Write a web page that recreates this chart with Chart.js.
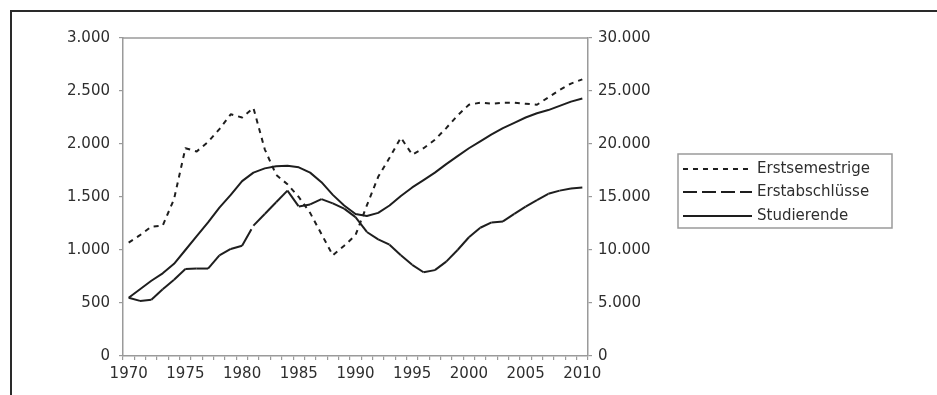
<!DOCTYPE html>
<html lang="de">
<head>
<meta charset="utf-8">
<title>Erstsemestrige, Erstabschlüsse und Studierende 1970–2010</title>
<script src="https://cdn.jsdelivr.net/npm/chart.js@4.4.1/dist/chart.umd.min.js"></script>
<style>
  html, body { margin: 0; padding: 0; background: #fff; overflow: hidden; }
  #wrap { width: 937px; height: 395px; }
</style>
</head>
<body>
<div id="wrap"><canvas id="c" width="937" height="395"></canvas></div>
<script>
// Jahre (Kategorien der x-Achse)
const years = [
  1970, 1971, 1972, 1973, 1974, 1975, 1976, 1977, 1978, 1979,
  1980, 1981, 1982, 1983, 1984, 1985, 1986, 1987, 1988, 1989,
  1990, 1991, 1992, 1993, 1994, 1995, 1996, 1997, 1998, 1999,
  2000, 2001, 2002, 2003, 2004, 2005, 2006, 2007, 2008, 2009, 2010
];

// Erstsemestrige (linke Achse)
const erstsemestrige = [
  1070, 1140, 1220, 1230, 1480, 1960, 1930, 2020, 2140, 2280,
  2250, 2340, 1950, 1710, 1620, 1500, 1350, 1150, 950, 1040,
  1140, 1420, 1690, 1870, 2060, 1900, 1960, 2040, 2150, 2270,
  2370, 2390, 2380, 2390, 2390, 2380, 2370, 2440, 2510, 2570, 2610
];

// Erstabschlüsse (linke Achse)
const erstabschluesse = [
  550, 520, 530, 630, 720, 820, 825, 825, 950, 1010,
  1040, 1230, 1340, 1450, 1560, 1410, 1430, 1480, 1440, 1390,
  1310, 1170, 1100, 1050, 950, 860, 790, 810, 890, 1000,
  1120, 1210, 1260, 1270, 1340, 1410, 1470, 1530, 1560, 1580, 1590
];

// Studierende (rechte Achse)
const studierende = [
  5500, 6300, 7100, 7800, 8700, 10000, 11300, 12600, 14000, 15200,
  16500, 17300, 17700, 17900, 17950, 17800, 17300, 16400, 15200, 14200,
  13400, 13200, 13500, 14200, 15100, 15900, 16600, 17300, 18100, 18850,
  19600, 20250, 20900, 21500, 22000, 22500, 22900, 23200, 23600, 24000, 24300
];

// Achsenbeschriftungen
const leftTicks = [0, 500, 1000, 1500, 2000, 2500, 3000];
const rightTicks = [0, 5000, 10000, 15000, 20000, 25000, 30000];

const FONT = 'DejaVu Sans';
const TEXT = '#2e2e2e';
const AXIS = '#9a9a9a';
const INK = '#1e1e1e';

const dotted = [5, 5];

function fmt(v) {
  return String(v).replace(/\B(?=(\d{3})+(?!\d))/g, '.');
}

// Rahmen um die gesamte Grafik und obere Begrenzung der Zeichenfläche
const framePlugin = {
  id: 'frame',
  beforeDraw(chart) {
    const ctx = chart.ctx;
    ctx.save();
    ctx.fillStyle = '#fff';
    ctx.fillRect(0, 0, chart.width, chart.height);
    ctx.strokeStyle = '#2a2a2a';
    ctx.lineWidth = 2;
    ctx.beginPath();
    ctx.moveTo(11, chart.height + 5);
    ctx.lineTo(11, 11);
    ctx.lineTo(chart.width + 5, 11);
    ctx.stroke();
    ctx.restore();
  },
  beforeDatasetsDraw(chart) {
    const { ctx, chartArea: a } = chart;
    ctx.save();
    ctx.strokeStyle = AXIS;
    ctx.lineWidth = 1.5;
    ctx.beginPath();
    ctx.moveTo(a.left, a.top);
    ctx.lineTo(a.right, a.top);
    ctx.stroke();
    ctx.restore();
  }
};

// Legende mit Rahmen rechts neben der Zeichenfläche
const boxLegend = {
  id: 'boxLegend',
  afterDraw(chart) {
    const ctx = chart.ctx;
    const x0 = 678, y0 = 154, w = 214, h = 74;
    ctx.save();
    ctx.strokeStyle = AXIS;
    ctx.lineWidth = 1.5;
    ctx.strokeRect(x0, y0, w, h);
    const rowY = [169, 192, 216];
    chart.data.datasets.forEach((ds, i) => {
      const y = rowY[i];
      ctx.strokeStyle = ds.borderColor;
      ctx.lineWidth = ds.borderWidth;
      ctx.setLineDash(ds.legendDash || ds.borderDash || []);
      ctx.beginPath();
      ctx.moveTo(683, y);
      ctx.lineTo(752, y);
      ctx.stroke();
      ctx.setLineDash([]);
      ctx.fillStyle = TEXT;
      ctx.font = '15px "' + FONT + '"';
      ctx.textBaseline = 'middle';
      ctx.textAlign = 'left';
      ctx.fillText(ds.label, 757, y);
    });
    ctx.restore();
  }
};

Chart.defaults.font.family = FONT;
Chart.defaults.font.size = 15;
Chart.defaults.color = TEXT;

new Chart(document.getElementById('c'), {
  type: 'line',
  data: {
    labels: years.map(String),
    datasets: [
      {
        label: 'Erstsemestrige',
        data: erstsemestrige,
        yAxisID: 'y',
        borderColor: INK,
        borderWidth: 2,
        borderDash: dotted,
        pointRadius: 0,
        tension: 0,
        fill: false
      },
      {
        label: 'Erstabschlüsse',
        data: erstabschluesse,
        yAxisID: 'y',
        borderColor: INK,
        borderWidth: 2,
        borderDash: [19, 4],
        legendDash: [14, 5],
        // dash pattern restarts on every segment between two years
        segment: {
          borderDashOffset: ctx => (ctx.p0DataIndex % 2) * 0.01
        },
        pointRadius: 0,
        tension: 0,
        fill: false
      },
      {
        label: 'Studierende',
        data: studierende,
        yAxisID: 'y2',
        borderColor: INK,
        borderWidth: 2,
        pointRadius: 0,
        tension: 0,
        fill: false
      }
    ]
  },
  options: {
    responsive: false,
    animation: false,
    devicePixelRatio: 1,
    layout: { padding: { top: 38, left: 0, right: 0, bottom: 0 } },
    plugins: {
      legend: { display: false },
      tooltip: { enabled: false }
    },
    elements: { line: { borderJoinStyle: 'round', borderCapStyle: 'butt' } },
    scales: {
      x: {
        type: 'category',
        offset: true,
        afterFit: s => { s.height = 39; },
        grid: {
          offset: true,
          drawOnChartArea: false,
          drawTicks: true,
          tickLength: 4,
          color: AXIS,
          lineWidth: 1.2
        },
        border: { display: true, color: AXIS, width: 1.5 },
        ticks: {
          autoSkip: false,
          maxRotation: 0,
          minRotation: 0,
          padding: 5,
          color: TEXT,
          callback: function (value, index) {
            const yr = years[index];
            return yr % 5 === 0 ? String(yr) : '';
          }
        }
      },
      y: {
        position: 'left',
        min: 0,
        max: 3000,
        afterFit: s => { s.width = 123; },
        afterBuildTicks: s => { s.ticks = leftTicks.map(v => ({ value: v })); },
        grid: {
          drawOnChartArea: false,
          tickLength: 4,
          color: AXIS,
          lineWidth: 1.2
        },
        border: { display: true, color: AXIS, width: 1.5 },
        ticks: { padding: 9, color: TEXT, callback: v => fmt(v) }
      },
      y2: {
        position: 'right',
        min: 0,
        max: 30000,
        afterFit: s => { s.width = 349; },
        afterBuildTicks: s => { s.ticks = rightTicks.map(v => ({ value: v })); },
        grid: {
          drawOnChartArea: false,
          tickLength: 4,
          color: AXIS,
          lineWidth: 1.2
        },
        border: { display: true, color: AXIS, width: 1.5 },
        ticks: { padding: 6, color: TEXT, callback: v => fmt(v) }
      }
    }
  },
  plugins: [framePlugin, boxLegend]
});
</script>
</body>
</html>
